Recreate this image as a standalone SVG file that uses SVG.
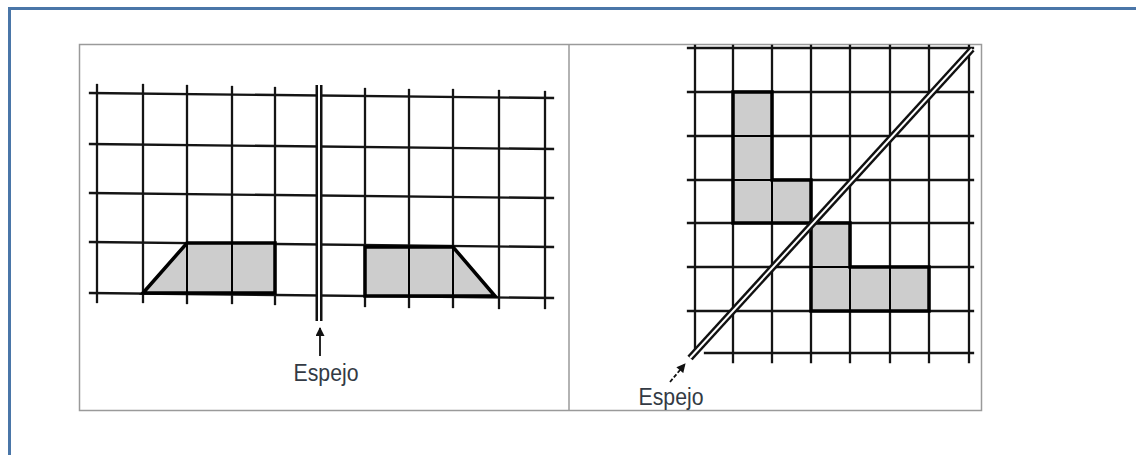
<svg xmlns="http://www.w3.org/2000/svg" width="1136" height="455" viewBox="0 0 1136 455">
<defs>
<style>
.grid{stroke:#141414;stroke-width:2.3;fill:none;stroke-linecap:square}
.shape{fill:#cdcdcd;stroke:#000;stroke-width:3.5;stroke-linejoin:miter}
.inner{stroke:#000;stroke-width:2;fill:none}
.lbl{font-family:"Liberation Sans",Arial,sans-serif;font-size:23px;fill:#333a44}
</style>
<marker id="ah" viewBox="0 0 10 10" refX="9" refY="5" markerWidth="10" markerHeight="9" markerUnits="userSpaceOnUse" orient="auto">
<path d="M0,0 L10,5 L0,10 Z" fill="#111"/>
</marker>
</defs>
<rect width="1136" height="455" fill="#fff"/>
<path d="M9.5,455 V8.5 H1136" fill="none" stroke="#4a76a8" stroke-width="3"/>
<g id="frame">
<rect x="79.5" y="44.5" width="902" height="366" fill="none" stroke="#9a9a9a" stroke-width="1.5"/>
<line x1="569" y1="44.5" x2="569" y2="410.5" stroke="#9a9a9a" stroke-width="1.5"/>
</g>
<g id="left-panel">
<g id="left-grid" class="grid">
<line x1="90" y1="93" x2="553" y2="98"/>
<line x1="90" y1="144" x2="553" y2="149"/>
<line x1="90" y1="193" x2="553" y2="198"/>
<line x1="90" y1="242" x2="553" y2="247"/>
<line x1="90" y1="293" x2="553" y2="298"/>
<line x1="97" y1="85" x2="97" y2="302"/>
<line x1="143" y1="85" x2="143" y2="302"/>
<line x1="187" y1="86" x2="187" y2="303"/>
<line x1="232" y1="87" x2="232" y2="303"/>
<line x1="275" y1="88" x2="275" y2="304"/>
<line x1="365" y1="89" x2="365" y2="306"/>
<line x1="409" y1="90" x2="409" y2="307"/>
<line x1="453" y1="90" x2="453" y2="307"/>
<line x1="499" y1="91" x2="499" y2="308"/>
<line x1="545" y1="92" x2="545" y2="308"/>
</g>
<g id="left-shape">
<path class="shape" d="M143,293 L187,243 L275,243 L275,293 Z"/>
<path class="inner" d="M187,243 V293 M232,243 V293"/>
</g>
<g id="right-shape">
<path class="shape" d="M365,247 L453,247 L495,296 L365,296 Z"/>
<path class="inner" d="M409,247 V296 M453,247 V296"/>
</g>
<g id="mirror-left">
<rect x="315.5" y="85" width="7" height="236" fill="#111"/>
<rect x="318" y="85" width="2" height="236" fill="#fff"/>
</g>
<g id="label-left">
<line x1="320" y1="356" x2="320" y2="328" stroke="#111" stroke-width="1.8" marker-end="url(#ah)"/>
<text class="lbl" x="326" y="381" text-anchor="middle" textLength="65" lengthAdjust="spacingAndGlyphs">Espejo</text>
</g>
</g>
<g id="right-panel">
<g id="right-grid" class="grid">
<line x1="688" y1="48" x2="973" y2="48"/>
<line x1="688" y1="92" x2="973" y2="92"/>
<line x1="688" y1="136" x2="973" y2="136"/>
<line x1="688" y1="180" x2="973" y2="180"/>
<line x1="688" y1="223" x2="973" y2="223"/>
<line x1="688" y1="267" x2="973" y2="267"/>
<line x1="688" y1="311" x2="973" y2="311"/>
<line x1="705" y1="353" x2="973" y2="353"/>
<line x1="695" y1="46" x2="695" y2="350"/>
<line x1="733" y1="46" x2="733" y2="362"/>
<line x1="772" y1="46" x2="772" y2="362"/>
<line x1="811" y1="46" x2="811" y2="362"/>
<line x1="850" y1="46" x2="850" y2="362"/>
<line x1="890" y1="46" x2="890" y2="362"/>
<line x1="929" y1="46" x2="929" y2="362"/>
<line x1="969" y1="46" x2="969" y2="362"/>
</g>
<g id="upper-L">
<path class="shape" d="M733,92 L772,92 L772,180 L811,180 L811,223 L733,223 Z"/>
<path class="inner" d="M733,136 H772 M733,180 H772 M772,180 V223"/>
</g>
<g id="lower-L">
<path class="shape" d="M811,223 L850,223 L850,267 L929,267 L929,311 L811,311 Z"/>
<path class="inner" d="M811,267 H850 M850,267 V311 M890,267 V311"/>
</g>
<g id="mirror-right">
<line x1="690" y1="358" x2="972" y2="49" stroke="#111" stroke-width="7"/>
<line x1="690" y1="358" x2="972" y2="49" stroke="#fff" stroke-width="2"/>
</g>
<g id="label-right">
<line x1="670" y1="382" x2="685" y2="364" stroke="#111" stroke-width="1.8" stroke-dasharray="4,2" marker-end="url(#ah)"/>
<text class="lbl" x="671" y="405" text-anchor="middle" textLength="65" lengthAdjust="spacingAndGlyphs">Espejo</text>
</g>
</g>
</svg>
